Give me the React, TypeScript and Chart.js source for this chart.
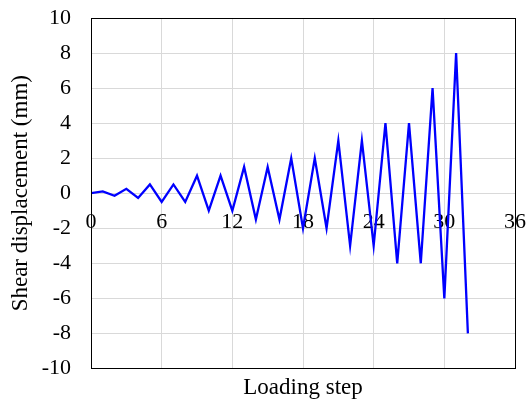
import React, { useEffect, useRef } from "react";
import { Chart, registerables } from "chart.js";

Chart.register(...registerables);

const steps: number[] = [
  0, 1, 2, 3, 4, 5, 6, 7, 8, 9, 10, 11, 12, 13, 14, 15, 16, 17, 18, 19, 20,
  21, 22, 23, 24, 25, 26, 27, 28, 29, 30, 31, 32,
];
const displacement: number[] = [
  0, 0.1, -0.15, 0.25, -0.27, 0.5, -0.5, 0.5, -0.5, 1, -1, 1, -1, 1.5, -1.5,
  1.5, -1.5, 2, -2, 2, -2, 3, -3, 3, -3, 4, -4, 4, -4, 6, -6, 8, -8,
];
const xTicks: number[] = [0, 6, 12, 18, 24, 30, 36];
const yTicks: number[] = [-10, -8, -6, -4, -2, 0, 2, 4, 6, 8, 10];

const FONT = "'Liberation Serif', 'Times New Roman', serif";

const framePlugin = {
  id: "frame",
  afterDraw(chart: any) {
    const { ctx, chartArea } = chart;
    ctx.save();
    ctx.strokeStyle = "#000";
    ctx.lineWidth = 1;
    ctx.strokeRect(
      Math.round(chartArea.left) + 0.5,
      Math.round(chartArea.top) + 0.5,
      Math.round(chartArea.right - chartArea.left),
      Math.round(chartArea.bottom - chartArea.top)
    );
    ctx.restore();
  },
};

export default function App() {
  const ref = useRef<HTMLCanvasElement | null>(null);
  useEffect(() => {
    if (!ref.current) return;
    const chart = new Chart(ref.current, {
      type: "line",
      data: {
        datasets: [
          {
            data: steps.map((s, i) => ({ x: s, y: displacement[i] })),
            borderColor: "#0000ff",
            borderWidth: 2.3,
            pointRadius: 0,
            tension: 0,
            fill: false,
            xAxisID: "x",
            yAxisID: "y",
          },
        ],
      },
      options: {
        animation: false,
        responsive: false,
        maintainAspectRatio: false,
        layout: { padding: { top: 0, right: 14, left: 0, bottom: 5 } },
        plugins: { legend: { display: false }, tooltip: { enabled: false } },
        scales: {
          x: {
            type: "linear",
            position: { y: 0 } as any,
            min: 0,
            max: 36,
            afterBuildTicks: (axis: any) => {
              axis.ticks = xTicks.map((v) => ({ value: v }));
            },
            afterFit: (s: any) => {
              s.paddingLeft = 0;
              s.paddingRight = 0;
              s.paddingTop = 0;
              s.paddingBottom = 0;
            },
            ticks: {
              color: "#000",
              font: { family: FONT, size: 22 },
              padding: 16,
              maxRotation: 0,
            },
            grid: { color: "#d9d9d9", drawTicks: false, lineWidth: 1 },
            border: { display: false },
          },
          x2: {
            type: "linear",
            position: "bottom",
            min: 0,
            max: 36,
            afterFit: (s: any) => {
              s.paddingLeft = 0;
              s.paddingRight = 0;
            },
            ticks: { display: false },
            grid: { display: false, drawTicks: false },
            border: { display: false },
            title: {
              display: true,
              text: "Loading step",
              color: "#000",
              font: { family: FONT, size: 23 },
              padding: { top: 6, bottom: 0 },
            },
          },
          y: {
            type: "linear",
            min: -10,
            max: 10,
            afterBuildTicks: (axis: any) => {
              axis.ticks = yTicks.map((v) => ({ value: v }));
            },
            afterFit: (s: any) => {
              s.width = 91;
              s.paddingTop = 18;
              s.paddingBottom = 0;
            },
            ticks: {
              color: "#000",
              font: { family: FONT, size: 22 },
              padding: 20,
            },
            grid: { color: "#d9d9d9", drawTicks: false, lineWidth: 1 },
            border: { display: false },
            title: {
              display: true,
              text: "Shear displacement (mm)",
              color: "#000",
              font: { family: FONT, size: 23 },
              padding: { top: 7, bottom: 0 },
            },
          },
        },
      },
      plugins: [framePlugin],
    });
    return () => chart.destroy();
  }, []);
  return (
    <div style={{ position: "fixed", left: 0, top: 0, width: 529, height: 407, background: "#fff" }}>
      <canvas ref={ref} width={529} height={407} style={{ display: "block" }} />
    </div>
  );
}
